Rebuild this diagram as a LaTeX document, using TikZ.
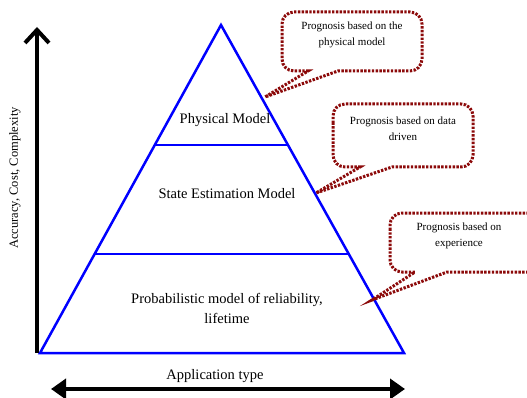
\documentclass[tikz,border=0pt]{standalone}
\usepackage{fontspec}
\setmainfont{Liberation Serif}
\usetikzlibrary{arrows.meta}
\definecolor{calloutred}{RGB}{140,10,10}
\definecolor{pyrblue}{RGB}{0,0,255}
\tikzset{
  pyr/.style={draw=pyrblue, line width=2.5pt, line join=miter},
  callout/.style={draw=calloutred, line width=3pt, dash pattern=on 2.4pt off 1.4pt},
  lbl/.style={font=\fontsize{14.5}{20}\selectfont, align=center, inner sep=0pt},
  clbl/.style={font=\fontsize{11}{16}\selectfont, align=center, inner sep=0pt},
  axis/.style={line width=4.5pt, black},
}
\begin{document}
\begin{tikzpicture}[x=1pt,y=-1pt]
\useasboundingbox (0,0) rectangle (527,398);
% pyramid
\coordinate (apex) at (221,25);
\coordinate (bl) at (40,353);
\coordinate (br) at (404,353);
\coordinate (l1) at (154.8,145);
\coordinate (r1) at (288,145);
\coordinate (l2) at (94.6,254);
\coordinate (r2) at (348.7,254);
\draw[pyr] (apex) -- (br) -- (bl) -- cycle;
\draw[pyr] (l1) -- (r1);
\draw[pyr] (l2) -- (r2);
\node[lbl] (phys) at (225,120) {Physical Model};
\node[lbl] (state) at (227,194) {State Estimation Model};
\node[lbl] (prob) at (227,308) {Probabilistic model of reliability,\\lifetime};
% axes
\coordinate (vbot) at (37,353);
\coordinate (vtop) at (37,27);
\draw[axis, -{Straight Barb[length=13pt,width=24pt,line width=4pt]}] (vbot) -- (vtop);
\node[font=\fontsize{12.5}{14}\selectfont, rotate=90, inner sep=0pt] (acc) at (15,178) {Accuracy, Cost, Complexity};
\coordinate (hl) at (51,389);
\coordinate (hr) at (405,389);
\draw[axis, {Triangle[length=15pt,width=20pt]}-{Triangle[length=15pt,width=20pt]}] (hl) -- (hr);
\node[lbl] (app) at (215,376) {Application type};
% callout 1
\coordinate (t1) at (265,97);
\draw[callout] (282,40) [rounded corners=12pt] -- (282,12) -- (422,12) -- (422,71) -- (351,71) [sharp corners] -- (338,71) -- (t1) -- (308,71) -- (295,71) [rounded corners=12pt] -- (282,71) -- cycle;
\node[clbl] (c1) at (352,35) {Prognosis based on the\\physical model};
% callout 2
\coordinate (t2) at (316,193);
\draw[callout] (333,135) [rounded corners=12pt] -- (333,104) -- (473,104) -- (473,167) -- (405,167) [sharp corners] -- (392,167) -- (t2) -- (360,167) -- (347,167) [rounded corners=12pt] -- (333,167) -- cycle;
\node[clbl] (c2) at (403,129) {Prognosis based on data\\driven};
% callout 3
\coordinate (t3) at (372,300);
\draw[callout] (390,242) [rounded corners=12pt] -- (390,213) -- (545,213) -- (545,272) -- (460,272) [sharp corners] -- (447,272) -- (t3) -- (415,272) -- (402,272) [rounded corners=12pt] -- (390,272) -- cycle;
\node[clbl] (c3) at (459,236) {Prognosis based on\\experience};
\end{tikzpicture}
\end{document}
